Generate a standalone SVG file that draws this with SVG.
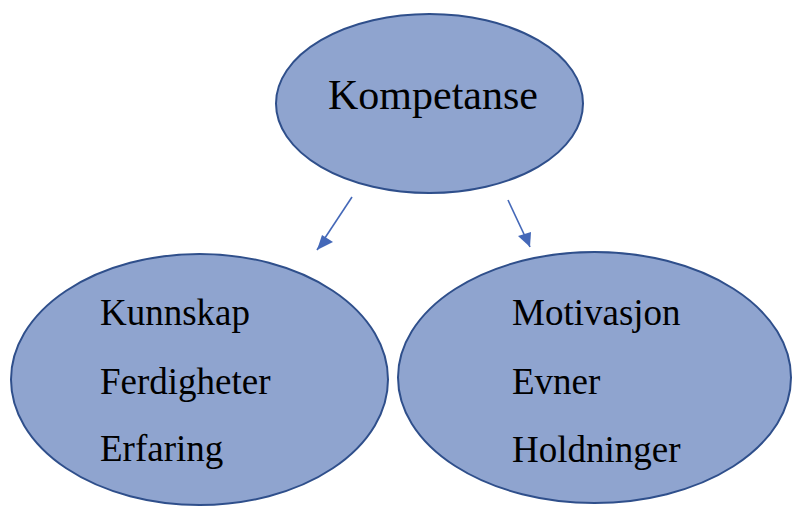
<svg xmlns="http://www.w3.org/2000/svg" width="792" height="506" viewBox="0 0 792 506">
<style>
.node{fill:#8FA4CF;stroke:#2F4F8B;stroke-width:2}
.t{font-family:"Liberation Serif","Times New Roman",serif;fill:#000}
.big{font-size:42px}
.small{font-size:37px}
.conn{stroke:#4468B8;stroke-width:1.6;fill:none;marker-end:url(#ah)}
</style>
<defs>
<marker id="ah" markerWidth="10" markerHeight="10" refX="9" refY="5" orient="auto" markerUnits="userSpaceOnUse" viewBox="0 0 10 10">
<path d="M0,0 L10,5 L0,10 Z" fill="#4468B8"/>
</marker>
</defs>
<rect width="792" height="506" fill="#fff"/>
<g id="connectors">
<line class="conn" x1="352" y1="197" x2="317" y2="250" style="marker-end:none"/>
<path d="M317,250 L322,235 L333,242 Z" fill="#4468B8"/>
<line x1="508" y1="200" x2="530" y2="247" stroke="#4468B8" stroke-width="1.6"/>
<path d="M530,247 L518,236 L531,232 Z" fill="#4468B8"/>
</g>
<g id="kompetanse">
<ellipse class="node" cx="429.5" cy="103.5" rx="153.5" ry="89.5"/>
<text class="t big" x="328" y="109">Kompetanse</text>
</g>
<g id="left">
<ellipse class="node" cx="199.5" cy="379.5" rx="188.5" ry="125.5"/>
<text class="t small" x="100" y="325">Kunnskap</text>
<text class="t small" x="100" y="394">Ferdigheter</text>
<text class="t small" x="100" y="461">Erfaring</text>
</g>
<g id="right">
<ellipse class="node" cx="594.5" cy="377.5" rx="196.5" ry="125.5"/>
<text class="t small" x="512" y="325">Motivasjon</text>
<text class="t small" x="512" y="394">Evner</text>
<text class="t small" x="512" y="462">Holdninger</text>
</g>
</svg>
